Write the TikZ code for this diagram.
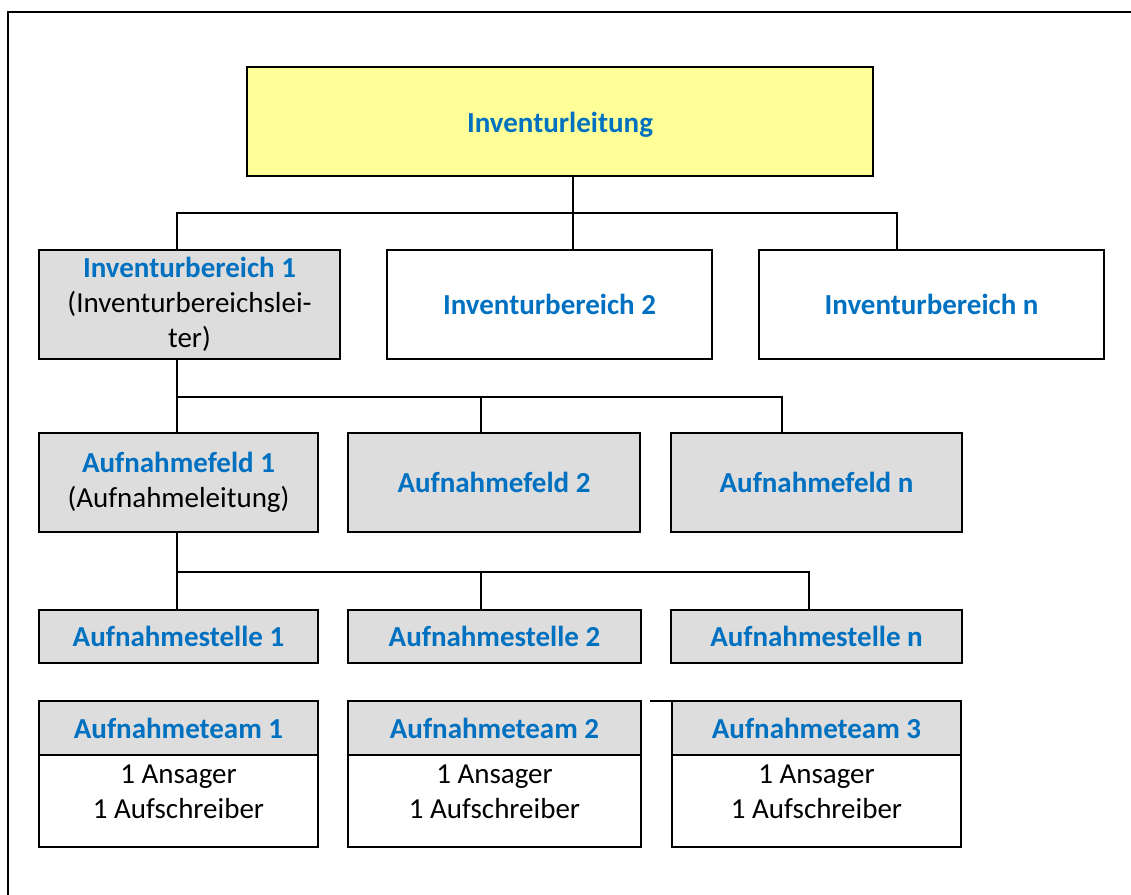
\documentclass[tikz,border=0pt]{standalone}
\usepackage{fontspec}
\setmainfont{Carlito}
\usetikzlibrary{positioning}
\definecolor{titelblau}{RGB}{0,112,192}
\definecolor{leitgelb}{RGB}{255,255,153}
\definecolor{feldgrau}{RGB}{221,221,221}
\newcommand{\titel}[1]{\textcolor{titelblau}{\bfseries #1}}

\begin{document}
\begin{tikzpicture}[x=0.5pt,y=-0.5pt,line width=1.25pt,
    box/.style={draw, inner sep=0pt, outer sep=0pt, align=center, font=\fontsize{14.5}{17.5}\selectfont},
    leitbox/.style={box, fill=leitgelb, minimum height=54.5pt},
    bereichbox/.style={box, minimum height=54.5pt},
    feldbox/.style={box, fill=feldgrau, minimum height=49.5pt},
    stellebox/.style={box, fill=feldgrau, minimum height=26.5pt},
    teamkopf/.style={box, fill=feldgrau, minimum height=27pt},
    teamrumpf/.style={box, minimum height=46pt}]
    \useasboundingbox (0,0) rectangle (1131,895);
    % Rahmen (nur oben und links sichtbar)
    \draw (8,895) -- (8,12) -- (1131,12);

    \node[leitbox, minimum width=313pt] (leitung) at (560,121.5) {\titel{Inventurleitung}\rule{0pt}{13pt}};

    \node[bereichbox, fill=feldgrau, minimum width=150.5pt] (ib1) at (189.5,304.5)
        {\titel{Inventurbereich 1}\\(Inventurbereichslei-\\ter)};
    \node[bereichbox, minimum width=162.5pt] (ib2) at (549.5,304.5) {\titel{Inventurbereich 2}};
    \node[bereichbox, minimum width=172.5pt] (ibn) at (931.5,304.5) {\titel{Inventurbereich n}};

    \node[feldbox, minimum width=139.5pt] (af1) at (178.5,482.5) {\titel{Aufnahmefeld 1}\\(Aufnahmeleitung)};
    \node[feldbox, minimum width=146pt] (af2) at (494,482.5) {\titel{Aufnahmefeld 2}};
    \node[feldbox, minimum width=145.5pt] (afn) at (816.5,482.5) {\titel{Aufnahmefeld n}};

    \node[stellebox, minimum width=139.5pt] (as1) at (178.5,636.5) {\titel{Aufnahmestelle 1}};
    \node[stellebox, minimum width=146.5pt] (as2) at (494.5,636.5) {\titel{Aufnahmestelle 2}};
    \node[stellebox, minimum width=145.5pt] (asn) at (816.5,636.5) {\titel{Aufnahmestelle n}};

    \node[teamkopf, minimum width=139.5pt] (t1) at (178.5,728) {\titel{Aufnahmeteam 1}};
    \node[teamkopf, minimum width=146.5pt] (t2) at (494.5,728) {\titel{Aufnahmeteam 2}};
    \node[teamkopf, minimum width=144.5pt] (t3) at (816.5,728) {\titel{Aufnahmeteam 3}};
    \node[teamrumpf, minimum width=139.5pt] (r1) [below=0pt of t1] {1 Ansager\\1 Aufschreiber\rule[-9pt]{0pt}{1pt}};
    \node[teamrumpf, minimum width=146.5pt] (r2) [below=0pt of t2] {1 Ansager\\1 Aufschreiber\rule[-9pt]{0pt}{1pt}};
    \node[teamrumpf, minimum width=144.5pt] (r3) [below=0pt of t3] {1 Ansager\\1 Aufschreiber\rule[-9pt]{0pt}{1pt}};

    % Verbindungen
    \coordinate (b1) at (177,213);
    \coordinate (bn) at (897,213);
    \coordinate (f1) at (177,397);
    \coordinate (f2) at (481,397);
    \coordinate (fn) at (782,397);
    \coordinate (s1) at (177,572);
    \coordinate (s2) at (481,572);
    \coordinate (sn) at (809,572);
    \coordinate (stub) at (650,701);
    \draw (leitung.south -| 573,0) -- (ib2.north -| 573,0);
    \draw (ib1.north -| b1) -- (b1) -- (bn) -- (ibn.north -| bn);
    \draw (ib1.south -| f1) -- (af1.north -| f1);
    \draw (f1) -- (fn) -- (afn.north -| fn);
    \draw (f2) -- (af2.north -| f2);
    \draw (af1.south -| s1) -- (as1.north -| s1);
    \draw (s1) -- (sn) -- (asn.north -| sn);
    \draw (s2) -- (as2.north -| s2);
    \draw (stub) -- (stub -| t3.west);
\end{tikzpicture}
\end{document}
